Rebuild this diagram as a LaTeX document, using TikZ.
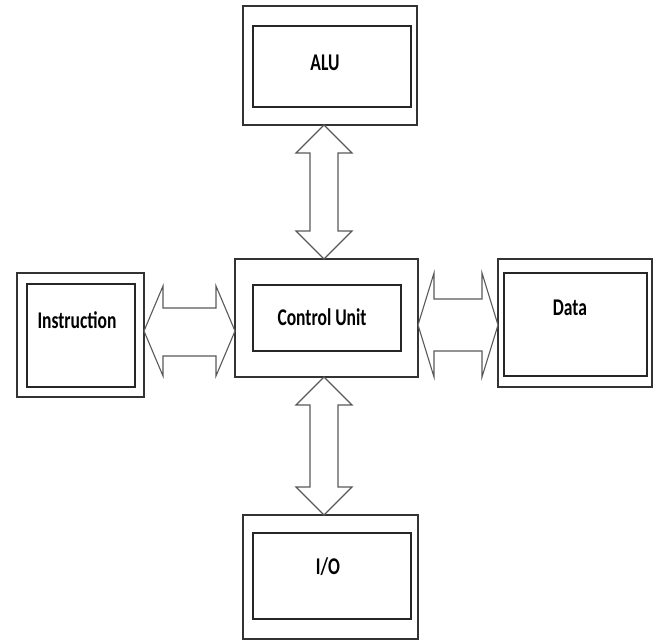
\documentclass[tikz,border=0pt]{standalone}
\usepackage{fontspec}
\setmainfont{Carlito}
\usetikzlibrary{calc}
\tikzset{
  outerbox/.style={draw=black!80, line width=1.4pt, minimum width=#1, inner sep=0pt, outer sep=0pt},
  innerbox/.style={draw=black!85, line width=1.3pt, inner sep=0pt, outer sep=0pt},
  lbl/.style={inner sep=0pt, font=\fontsize{24}{28}\selectfont\bfseries},
  bigarrow/.style={draw=black!65, line width=1.1pt, fill=white, line join=miter},
}
\newcommand{\sq}[1]{\scalebox{0.73}[1]{#1}}
\begin{document}
\begin{tikzpicture}[x=1pt,y=-1pt]
\useasboundingbox (0,0) rectangle (657,640);
% boxes
\node[outerbox=174pt, minimum height=119pt] (alu) at (330,65.5) {};
\node[innerbox, minimum width=158pt, minimum height=81pt] (aluin) at (332,66.5) {};
\node[lbl] (alut) at (325,63) {\sq{ALU}};

\node[outerbox=127pt, minimum height=124pt] (ins) at (80.5,335) {};
\node[innerbox, minimum width=108pt, minimum height=103pt] (insin) at (81,335.5) {};
\node[lbl] (inst) at (77,320) {\sq{Instruction}};

\node[outerbox=183pt, minimum height=118pt] (cu) at (326.5,318) {};
\node[innerbox, minimum width=148pt, minimum height=66pt] (cuin) at (327,318) {};
\node[lbl] (cut) at (322,317) {\sq{Control Unit}};

\node[outerbox=154pt, minimum height=128pt] (data) at (575,323) {};
\node[innerbox, minimum width=143pt, minimum height=103pt] (datain) at (575.5,324.5) {};
\node[lbl] (datat) at (570,308) {\sq{Data}};

\node[outerbox=175pt, minimum height=124pt] (io) at (330.5,577) {};
\node[innerbox, minimum width=158pt, minimum height=86pt] (ioin) at (332,576) {};
\node[lbl] (iot) at (328,567) {\sq{I/O}};

% reference coordinates for arrow axes
\coordinate (vx) at (324,0);
\coordinate (hl) at (0,331);
\coordinate (hr) at (0,325);

% ALU <-> Control Unit
\draw[bigarrow] (alu.south -| vx) -- ++(28,28) -- ++(-14,0)
  -- ($(cu.north -| vx)+(14,-28)$) -- ++(14,0) -- (cu.north -| vx)
  -- ++(-28,-28) -- ++(14,0) -- ($(alu.south -| vx)+(-14,28)$) -- ++(-14,0) -- cycle;
% Control Unit <-> I/O
\draw[bigarrow] (cu.south -| vx) -- ++(28,28) -- ++(-14,0)
  -- ($(io.north -| vx)+(14,-28)$) -- ++(14,0) -- (io.north -| vx)
  -- ++(-28,-28) -- ++(14,0) -- ($(cu.south -| vx)+(-14,28)$) -- ++(-14,0) -- cycle;
% Instruction <-> Control Unit
\draw[bigarrow] (ins.east |- hl) -- ++(19,-45) -- ++(0,22)
  -- ($(cu.west |- hl)+(-19,-23)$) -- ++(0,-22) -- (cu.west |- hl)
  -- ++(-19,45) -- ++(0,-20) -- ($(ins.east |- hl)+(19,25)$) -- ++(0,20) -- cycle;
% Control Unit <-> Data
\draw[bigarrow] (cu.east |- hr) -- ++(16,-52) -- ++(0,26)
  -- ($(data.west |- hr)+(-16,-26)$) -- ++(0,-26) -- (data.west |- hr)
  -- ++(-16,52) -- ++(0,-26) -- ($(cu.east |- hr)+(16,26)$) -- ++(0,26) -- cycle;
\end{tikzpicture}
\end{document}
